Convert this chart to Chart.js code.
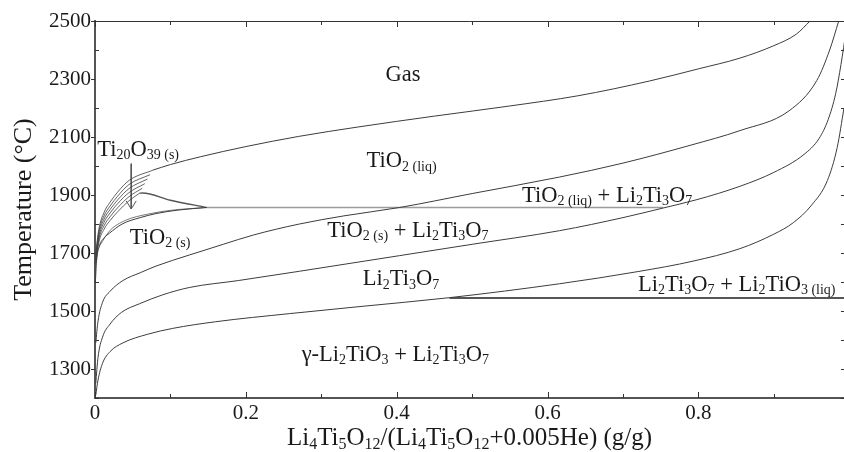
<!DOCTYPE html>
<html>
<head>
<meta charset="utf-8">
<script src="https://cdn.jsdelivr.net/npm/chart.js@4.4.1/dist/chart.umd.min.js"></script>
<style>
  html, body { margin: 0; padding: 0; background: #fff; }
  #c { display: block; }
</style>
</head>
<body>
<canvas id="c" width="844" height="452"></canvas>
<script>
// ---- Axis ticks ----
const xTickValues = [0, 0.1, 0.2, 0.3, 0.4, 0.5, 0.6, 0.7, 0.8, 0.9];
const xTickLabels = ['0', '', '0.2', '', '0.4', '', '0.6', '', '0.8', ''];
const yTickValues = [1200, 1300, 1400, 1500, 1600, 1700, 1800, 1900, 2000, 2100, 2200, 2300, 2400, 2500];
const yTickLabels = ['', '1300', '', '1500', '', '1700', '', '1900', '', '2100', '', '2300', '', '2500'];

// ---- Phase boundaries: mass fraction (g/g) vs temperature (°C) ----
const gasX = [0.077, 0.10, 0.14, 0.20, 0.27, 0.35, 0.45, 0.55, 0.64, 0.735, 0.80, 0.855, 0.90, 0.93, 0.948];
const gasT = [1986, 2005, 2032, 2067, 2102, 2135, 2172, 2207, 2242, 2293, 2335, 2372, 2415, 2455, 2500];

const liquidusX = [0.001, 0.004, 0.01, 0.02, 0.037, 0.06, 0.081, 0.125, 0.17, 0.21, 0.271, 0.33, 0.404, 0.5, 0.616, 0.7, 0.79, 0.855, 0.92, 0.957, 0.974, 0.986];
const liquidusT = [1390, 1465, 1530, 1568, 1605, 1632, 1655, 1693, 1730, 1762, 1800, 1828, 1857, 1905, 1962, 2010, 2072, 2122, 2190, 2295, 2400, 2500];

const tio2SolidX = [0.0005, 0.002, 0.006, 0.012, 0.019, 0.036, 0.06, 0.081, 0.11, 0.148];
const tio2SolidT = [1600, 1670, 1725, 1752, 1768, 1800, 1822, 1836, 1848, 1857];
const tio2SolidOuterX = [0.006, 0.02, 0.04, 0.07, 0.1, 0.148];
const tio2SolidOuterT = [1725, 1778, 1812, 1834, 1847, 1857];

const li2ti3o7UpperX = [0.001, 0.004, 0.01, 0.02, 0.035, 0.059, 0.09, 0.125, 0.19, 0.271, 0.404, 0.5, 0.616, 0.7, 0.753, 0.798, 0.855, 0.9, 0.94, 0.96, 0.972, 0.982, 0.989, 0.996];
const li2ti3o7UpperT = [1250, 1340, 1410, 1455, 1495, 1525, 1556, 1581, 1605, 1637, 1691, 1730, 1777, 1822, 1855, 1884, 1930, 1978, 2040, 2095, 2160, 2250, 2350, 2470];

const li2ti3o7LowerX = [0.001, 0.004, 0.01, 0.02, 0.037, 0.07, 0.103, 0.16, 0.258, 0.35, 0.47, 0.616, 0.72, 0.793, 0.855, 0.9, 0.926, 0.95, 0.971, 0.984, 0.993];
const li2ti3o7LowerT = [1210, 1262, 1320, 1360, 1390, 1420, 1440, 1463, 1491, 1515, 1546, 1594, 1636, 1672, 1715, 1765, 1805, 1865, 1950, 2064, 2200];

// Ti20O39 (s) band: fan of boundaries near the TiO2-rich edge
const ti20o39X0 = [0.001, 0.005, 0.012, 0.02, 0.03, 0.045, 0.059];
const ti20o39T0 = [1660, 1735, 1782, 1812, 1842, 1880, 1906];
const ti20o39X1 = [0.001, 0.005, 0.012, 0.02, 0.03, 0.045, 0.0625];
const ti20o39T1 = [1668, 1745, 1794, 1825, 1856, 1894, 1923];
const ti20o39X2 = [0.001, 0.005, 0.012, 0.02, 0.03, 0.045, 0.066];
const ti20o39T2 = [1676, 1754, 1806, 1838, 1870, 1908, 1939];
const ti20o39X3 = [0.001, 0.005, 0.012, 0.02, 0.03, 0.045, 0.0695];
const ti20o39T3 = [1684, 1763, 1817, 1850, 1883, 1922, 1955];
const ti20o39X4 = [0.001, 0.005, 0.012, 0.02, 0.03, 0.045, 0.073];
const ti20o39T4 = [1692, 1772, 1828, 1862, 1896, 1936, 1970];
const ti20o39X5 = [0.001, 0.005, 0.012, 0.02, 0.03, 0.045, 0.077];
const ti20o39T5 = [1700, 1781, 1840, 1875, 1910, 1950, 1986];
const ti20o39BaseX = [0.059, 0.063, 0.1, 0.148];
const ti20o39BaseT = [1906, 1907, 1882, 1857];

// Invariant (horizontal) lines
const peritecticX = [0.148, 0.753];
const peritecticT = [1857, 1857];
const eutecticX = [0.47, 0.993];
const eutecticT = [1545, 1545];

// Pointer from the Ti20O39 (s) label down into its band
const arrowX = [0.048, 0.048];
const arrowT = [2008, 1852];

// ---- Region labels (text with _{subscript} parts) ----
const regionLabels = [
  { text: 'Gas', x: 0.385, t: 2292 },
  { text: 'TiO_{2 (liq)}', x: 0.36, t: 1995 },
  { text: 'Ti_{20}O_{39 (s)}', x: 0.003, t: 2036 },
  { text: 'TiO_{2 (s)}', x: 0.046, t: 1732 },
  { text: 'TiO_{2 (liq)} + Li_{2}Ti_{3}O_{7}', x: 0.566, t: 1875 },
  { text: 'TiO_{2 (s)} + Li_{2}Ti_{3}O_{7}', x: 0.308, t: 1754 },
  { text: 'Li_{2}Ti_{3}O_{7}', x: 0.355, t: 1588 },
  { text: 'Li_{2}Ti_{3}O_{7} + Li_{2}TiO_{3 (liq)}', x: 0.72, t: 1570 },
  { text: '\u03b3-Li_{2}TiO_{3} + Li_{2}Ti_{3}O_{7}', x: 0.274, t: 1329 }
];
const xAxisTitle = 'Li_{4}Ti_{5}O_{12}/(Li_{4}Ti_{5}O_{12}+0.005He) (g/g)';

const FONT = '"Liberation Serif", "Times New Roman", serif';
const INK = '#1a1a1a';

function pts(xs, ts) { return xs.map((x, i) => ({ x: x, y: ts[i] })); }

function curve(xs, ts, extra) {
  return Object.assign({
    data: pts(xs, ts),
    showLine: true,
    pointRadius: 0,
    borderColor: '#3c3c3c',
    borderWidth: 1,
    cubicInterpolationMode: 'monotone',
    fill: false
  }, extra || {});
}

const datasets = [
  curve(gasX, gasT),
  curve(liquidusX, liquidusT),
  curve(tio2SolidX, tio2SolidT),
  curve(tio2SolidOuterX, tio2SolidOuterT, { borderWidth: 0.8, borderColor: '#555' }),
  curve(li2ti3o7UpperX, li2ti3o7UpperT),
  curve(li2ti3o7LowerX, li2ti3o7LowerT),
  curve(ti20o39X0, ti20o39T0, { borderWidth: 0.8 }),
  curve(ti20o39X1, ti20o39T1, { borderWidth: 0.8 }),
  curve(ti20o39X2, ti20o39T2, { borderWidth: 0.8 }),
  curve(ti20o39X3, ti20o39T3, { borderWidth: 0.8 }),
  curve(ti20o39X4, ti20o39T4, { borderWidth: 0.8 }),
  curve(ti20o39X5, ti20o39T5, { borderWidth: 0.8 }),
  curve(ti20o39BaseX, ti20o39BaseT, { borderWidth: 1.4, borderColor: '#555' }),
  curve(peritecticX, peritecticT, { borderColor: '#9c9c9c', borderWidth: 1.6, cubicInterpolationMode: 'default', tension: 0 }),
  curve(eutecticX, eutecticT, { borderColor: '#1e1e1e', borderWidth: 1.6, cubicInterpolationMode: 'default', tension: 0 }),
  curve(arrowX, arrowT, { borderColor: '#555', borderWidth: 1, cubicInterpolationMode: 'default', tension: 0 })
];

// Split "A_{b}C" into normal and subscript runs
function parseRich(s) {
  const parts = [];
  const re = /_\{([^}]*)\}/g;
  let last = 0, m;
  while ((m = re.exec(s)) !== null) {
    if (m.index > last) parts.push({ t: s.slice(last, m.index), sub: false });
    parts.push({ t: m[1], sub: true });
    last = re.lastIndex;
  }
  if (last < s.length) parts.push({ t: s.slice(last), sub: false });
  return parts;
}

function drawRich(ctx, text, x, y, size, align) {
  const parts = parseRich(text);
  const subSize = Math.round(size * 0.64);
  let w = 0;
  parts.forEach(p => {
    ctx.font = (p.sub ? subSize : size) + 'px ' + FONT;
    p.w = ctx.measureText(p.t).width;
    w += p.w;
  });
  let cx = align === 'center' ? x - w / 2 : x;
  parts.forEach(p => {
    ctx.font = (p.sub ? subSize : size) + 'px ' + FONT;
    ctx.fillText(p.t, cx, y + (p.sub ? size * 0.14 : 0));
    cx += p.w;
  });
}

const overlay = {
  id: 'overlay',
  afterDraw(chart) {
    const ctx = chart.ctx;
    const xs = chart.scales.x, ys = chart.scales.y;
    const { left, right, top, bottom } = chart.chartArea;
    ctx.save();
    ctx.strokeStyle = '#333';
    ctx.lineWidth = 1;
    const seg = (x1, y1, x2, y2) => { ctx.beginPath(); ctx.moveTo(x1, y1); ctx.lineTo(x2, y2); ctx.stroke(); };

    // frame top
    seg(left, top + 0.5, right, top + 0.5);

    // y ticks: labelled ones outward on the left, minor ones inward; right side inward
    yTickValues.forEach((v, i) => {
      const py = Math.round(ys.getPixelForValue(v)) + 0.5;
      const major = yTickLabels[i] !== '';
      if (major) seg(left - 4, py, left, py); else seg(left, py, left + 4, py);
      seg(right - 3, py, right, py);
    });
    // x ticks inward, bottom and top
    xTickValues.forEach((v, i) => {
      const px = Math.round(xs.getPixelForValue(v)) + 0.5;
      const major = xTickLabels[i] !== '';
      const len = major ? 6 : 4;
      seg(px, bottom, px, bottom - len);
      seg(px, top, px, top + len);
    });

    // arrow head
    const ax = xs.getPixelForValue(arrowX[1]);
    const ay = ys.getPixelForValue(arrowT[1]);
    ctx.strokeStyle = '#555';
    seg(ax - 5, ay - 8, ax, ay);
    seg(ax + 5, ay - 8, ax, ay);

    // region labels
    ctx.fillStyle = INK;
    ctx.textBaseline = 'alphabetic';
    regionLabels.forEach(l => {
      drawRich(ctx, l.text, xs.getPixelForValue(l.x), ys.getPixelForValue(l.t), 22.5, 'left');
    });

    // x-axis title
    drawRich(ctx, xAxisTitle, (left + right) / 2, bottom + 47, 25, 'center');
    ctx.restore();
  }
};

new Chart(document.getElementById('c'), {
  type: 'scatter',
  data: { datasets: datasets },
  options: {
    responsive: false,
    animation: false,
    devicePixelRatio: 1,
    layout: { padding: { top: 21, right: 0, left: 0, bottom: 0 }, autoPadding: false },
    plugins: { legend: { display: false }, tooltip: { enabled: false } },
    scales: {
      x: {
        type: 'linear',
        min: 0,
        max: 0.993,
        afterBuildTicks: s => { s.ticks = xTickValues.map(v => ({ value: v })); },
        afterFit: s => { s.height = 54; },
        grid: { display: false, drawTicks: false },
        border: { display: true, color: '#555', width: 2 },
        ticks: {
          autoSkip: false,
          maxRotation: 0,
          padding: 3,
          color: INK,
          font: { family: FONT, size: 21 },
          callback: (v, i) => xTickLabels[i]
        }
      },
      y: {
        type: 'linear',
        min: 1200,
        max: 2500,
        afterBuildTicks: s => { s.ticks = yTickValues.map(v => ({ value: v })); },
        afterFit: s => { s.width = 95; },
        grid: { display: false, drawTicks: false },
        border: { display: true, color: '#555', width: 2 },
        title: {
          display: true,
          text: 'Temperature (\u00b0C)',
          color: INK,
          font: { family: FONT, size: 26 },
          padding: { top: 9, bottom: 0 }
        },
        ticks: {
          autoSkip: false,
          padding: 4,
          color: INK,
          font: { family: FONT, size: 21 },
          callback: (v, i) => yTickLabels[i]
        }
      }
    }
  },
  plugins: [overlay]
});
</script>
</body>
</html>
